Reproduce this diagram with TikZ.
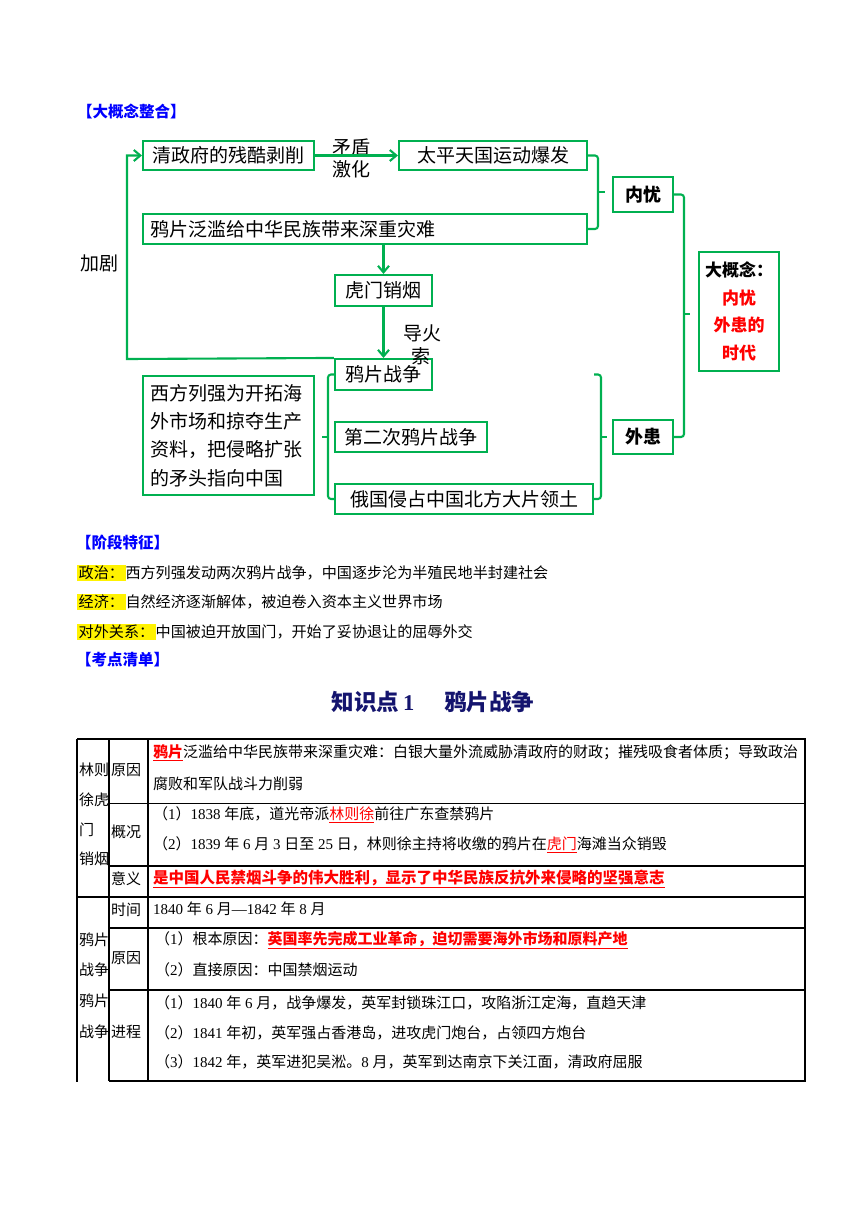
\documentclass[tikz,border=0pt]{standalone}
\usepackage{fontspec}
\setmainfont{Noto Sans CJK SC}
\newfontfamily\lat{Liberation Serif}
\usetikzlibrary{arrows.meta}
\definecolor{gr}{RGB}{0,176,80}
\definecolor{hblue}{RGB}{0,0,255}
\definecolor{navy}{RGB}{20,20,110}
\newcommand\sz[2]{\fontsize{#1}{#2}\selectfont}
\newcommand\rbu[1]{{\color{red}\bfseries\underline{#1}}}
\newcommand\rru[1]{{\color{red}\underline{#1}}}
\setlength{\fboxsep}{1.5pt}
\tikzset{
  fbox/.style={draw=gr, line width=2.1pt, inner sep=0pt, font=\sz{19}{24}},
  arr/.style={draw=gr, line width=2.1pt, -{Straight Barb[length=6.5pt,width=11pt,line width=2.1pt]}},
  br/.style={draw=gr, line width=2.1pt, rounded corners=3pt},
  lab/.style={inner sep=0pt, font=\sz{19}{24}},
  head/.style={anchor=west, inner sep=0pt, font=\sz{15.5}{18}\bfseries, text=hblue},
  stg/.style={anchor=west, inner sep=0pt, font=\sz{15.1}{18}},
  tl/.style={line width=1.3pt, black},
  tt/.style={anchor=west, inner sep=0pt, font=\sz{15}{18}},
}
\begin{document}
\begin{tikzpicture}[x=1pt,y=-1pt]
\fill[white] (0,0) rectangle (860,1216);
\useasboundingbox (0,0) rectangle (860,1216);

% heading
\node[head] (h1) at (77,112) {【大概念整合】};

% flowchart boxes
\node[fbox, minimum width=171pt, minimum height=29pt] (qing) at (228.5,155.5) {清政府的残酷剥削};
\node[fbox, minimum width=188pt, minimum height=29pt] (taiping) at (493,155.5) {太平天国运动爆发};
\node[fbox, minimum width=444pt, minimum height=30pt, text width=430pt, align=left, inner xsep=7pt] (yapian) at (365,229) {鸦片泛滥给中华民族带来深重灾难};
\node[fbox, minimum width=97pt, minimum height=31pt] (humen) at (383.5,290.5) {虎门销烟};
\node[fbox, minimum width=97pt, minimum height=31pt] (yzz) at (383.5,374.5) {鸦片战争};
\node[fbox, minimum width=171pt, minimum height=119pt, text width=157pt, align=left, inner xsep=7pt, font=\sz{19}{28.2}] (xifang) at (228.5,435.5) {西方列强为开拓海\\外市场和掠夺生产\\资料，把侵略扩张\\的矛头指向中国};
\node[fbox, minimum width=152pt, minimum height=30pt] (erci) at (411,437) {第二次鸦片战争};
\node[fbox, minimum width=258pt, minimum height=30pt] (ru) at (464,499) {俄国侵占中国北方大片领土};
\node[fbox, minimum width=60pt, minimum height=35pt, font=\sz{18}{22}\bfseries] (neiyou) at (643,194.5) {内忧};
\node[fbox, minimum width=60pt, minimum height=34pt, font=\sz{18}{22}\bfseries] (waihuan) at (643,437) {外患};
\node[fbox, minimum width=80pt, minimum height=119pt, align=center, font=\sz{17}{27.7}\bfseries] (dagn) at (739,311.5) {大概念：\\{\color{red}内忧}\\{\color{red}外患的}\\{\color{red}时代}};

% labels
\node[lab] (md) at (351,147) {矛盾};
\node[lab] (jh) at (351,169) {激化};
\node[lab] (jj) at (99,263) {加剧};
\node[lab] (dh) at (422,333) {导火};
\node[lab] (ds) at (421,356) {索};

% arrows
\draw[arr] (qing.east) -- (taiping.west);
\draw[arr] (yapian.south -| humen.north) -- (humen.north);
\draw[arr] (humen.south) -- (yzz.north);
\coordinate (lp) at (127,359);
\draw[arr] (yzz.north west) -- (lp) |- (qing.west);

% brackets
\coordinate (m1) at (598,192);
\coordinate (m1t) at (605,192);
\draw[br] (taiping.east) -| (m1) |- (yapian.east);
\draw[br] (m1) -- (m1t);

\coordinate (m2) at (328,437);
\coordinate (m2t) at (322,437);
\draw[br] (yzz.west) -| (m2) |- (ru.west);
\draw[br] (m2) -- (m2t);

\coordinate (m3s) at (594,374.5);
\coordinate (m3) at (601,437);
\coordinate (m3t) at (607,437);
\draw[br] (m3s) -| (m3) |- (ru.east);
\draw[br] (m3) -- (m3t);

\coordinate (m4) at (684,314);
\coordinate (m4t) at (690,314);
\draw[br] (neiyou.east) -| (m4) |- (waihuan.east);
\draw[br] (m4) -- (m4t);

% stage features
\node[head] (h2) at (76,543) {【阶段特征】};
\node[stg] (s1) at (77,573) {\colorbox{yellow}{政治：}西方列强发动两次鸦片战争，中国逐步沦为半殖民地半封建社会};
\node[stg] (s2) at (77,602) {\colorbox{yellow}{经济：}自然经济逐渐解体，被迫卷入资本主义世界市场};
\node[stg] (s3) at (77,632) {\colorbox{yellow}{对外关系：}中国被迫开放国门，开始了妥协退让的屈辱外交};
\node[head] (h3) at (76,660) {【考点清单】};

% title
\node[inner sep=0pt, font=\sz{22.5}{27}\bfseries, text=navy] (title) at (433,702) {知识点\hspace{4pt}{\lat 1}\hspace{30pt}鸦片战争};

% table lines
\draw[tl, line width=1.6pt] (77,739) -- (805,739) -- (805,1081) -- (109,1081);
\draw[tl] (77,739) -- (77,1082);
\draw[tl] (109,739) -- (109,1081);
\draw[tl] (148,739) -- (148,1081);
\draw[tl, line width=0.8pt] (109,803) -- (805,803);
\draw[tl, line width=1.6pt] (109,866) -- (805,866);
\draw[tl, line width=1.6pt] (77,897) -- (805,897);
\draw[tl] (109,928) -- (805,928);
\draw[tl] (109,990) -- (805,990);

% column 1
\node[tt] (c1a) at (79,770) {林则};
\node[tt] (c1b) at (79,800) {徐虎};
\node[tt] (c1c) at (79,830) {门};
\node[tt] (c1d) at (79,859) {销烟};
\node[tt] (c1e) at (79,940) {鸦片};
\node[tt] (c1f) at (79,970) {战争};
\node[tt] (c1g) at (79,1001) {鸦片};
\node[tt] (c1h) at (79,1032) {战争};

% column 2
\node[tt] (c2a) at (111,770) {原因};
\node[tt] (c2b) at (111,832) {概况};
\node[tt] (c2c) at (111,879) {意义};
\node[tt] (c2d) at (111,910) {时间};
\node[tt] (c2e) at (111,958) {原因};
\node[tt] (c2f) at (111,1032) {进程};

% column 3
\node[tt] (r1a) at (153,753) {\rbu{鸦片}泛滥给中华民族带来深重灾难：白银大量外流威胁清政府的财政；摧残吸食者体质；导致政治};
\node[tt] (r1b) at (153,784) {腐败和军队战斗力削弱};
\node[tt] (r2a) at (153,815) {（{\lat 1}）{\lat 1838 }年底，道光帝派\rru{林则徐}前往广东查禁鸦片};
\node[tt] (r2b) at (153,845) {（{\lat 2}）{\lat 1839 }年{\lat\ 6 }月{\lat\ 3 }日至{\lat\ 25 }日，林则徐主持将收缴的鸦片在\rru{虎门}海滩当众销毁};
\node[tt, font=\sz{15.5}{19}] (r3) at (153,879) {\rbu{是中国人民禁烟斗争的伟大胜利，显示了中华民族反抗外来侵略的坚强意志}};
\node[tt] (r4) at (153,909) {{\lat 1840 }年{\lat\ 6 }月{\lat —1842 }年{\lat\ 8 }月};
\node[tt] (r5a) at (155,940) {（{\lat 1}）根本原因：\rbu{英国率先完成工业革命，迫切需要海外市场和原料产地}};
\node[tt] (r5b) at (155,970) {（{\lat 2}）直接原因：中国禁烟运动};
\node[tt] (r6a) at (155,1003) {（{\lat 1}）{\lat 1840 }年{\lat\ 6 }月，战争爆发，英军封锁珠江口，攻陷浙江定海，直趋天津};
\node[tt] (r6b) at (155,1033) {（{\lat 2}）{\lat 1841 }年初，英军强占香港岛，进攻虎门炮台，占领四方炮台};
\node[tt] (r6c) at (155,1062) {（{\lat 3}）{\lat 1842 }年，英军进犯吴淞。{\lat 8 }月，英军到达南京下关江面，清政府屈服};
\end{tikzpicture}
\end{document}
